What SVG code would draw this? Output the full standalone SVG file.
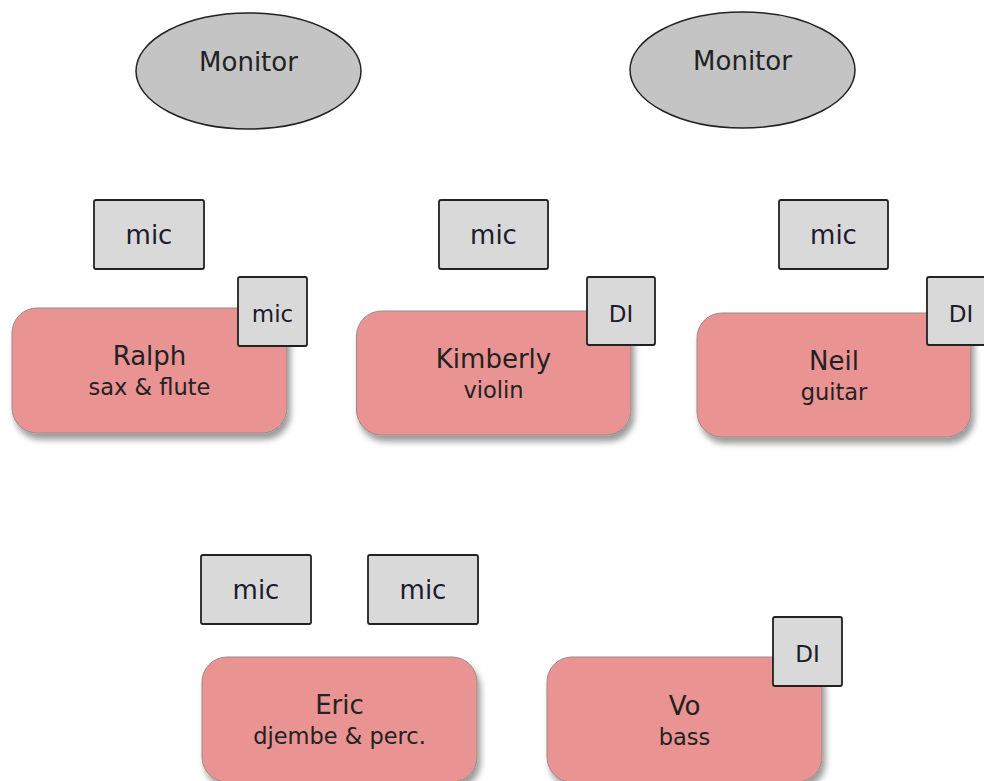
<svg xmlns="http://www.w3.org/2000/svg" width="984" height="781" viewBox="0 0 984 781">
<defs>
<filter id="shadow" x="-10%" y="-10%" width="125%" height="135%">
<feGaussianBlur in="SourceAlpha" stdDeviation="3"/>
<feOffset dx="3" dy="6" result="b"/>
<feComponentTransfer><feFuncA type="linear" slope="0.4"/></feComponentTransfer>
<feMerge><feMergeNode/><feMergeNode in="SourceGraphic"/></feMerge>
</filter>
</defs>
<style>
text{font-family:"DejaVu Sans","Liberation Sans",sans-serif;text-anchor:middle;fill:#222}
.mon{fill:#c4c4c4;stroke:#222;stroke-width:1.5}
.box{fill:#d9d9d9;stroke:#222;stroke-width:1.8}
.player{fill:#ea9393;stroke:#9a8a8a;stroke-width:1}
.big{font-size:26px}
.inst{font-size:22.5px}
.sm{font-size:23px}
.mt{fill:#1c1c2c}
</style>
<rect width="984" height="781" fill="#fff"/>
<g id="connectors"/>
<g id="monitor-left"><ellipse class="mon" cx="248.5" cy="71" rx="112.5" ry="58"/><text class="big" x="248.5" y="71">Monitor</text></g>
<g id="monitor-right"><ellipse class="mon" cx="742.5" cy="70" rx="112.5" ry="58"/><text class="big" x="742.5" y="70">Monitor</text></g>
<g id="mic-ralph-top"><rect class="box" x="94" y="200" width="110" height="69" rx="2"/><text class="big mt" x="149" y="244">mic</text></g>
<g id="mic-kimberly-top"><rect class="box" x="439" y="200" width="109" height="69" rx="2"/><text class="big mt" x="493.5" y="244">mic</text></g>
<g id="mic-neil-top"><rect class="box" x="779" y="200" width="109" height="69" rx="2"/><text class="big mt" x="833.5" y="244">mic</text></g>
<g id="ralph"><rect class="player" filter="url(#shadow)" x="12" y="308" width="275" height="125" rx="25"/><text class="big" x="149.5" y="365">Ralph</text><text class="inst" x="149.5" y="395">sax &amp; flute</text></g>
<g id="kimberly"><rect class="player" filter="url(#shadow)" x="356.5" y="311" width="274.5" height="124" rx="25"/><text class="big" x="493.5" y="368">Kimberly</text><text class="inst" x="493.5" y="398">violin</text></g>
<g id="neil"><rect class="player" filter="url(#shadow)" x="697" y="313" width="274" height="124" rx="25"/><text class="big" x="834" y="370">Neil</text><text class="inst" x="834" y="400">guitar</text></g>
<g id="mic-ralph-small"><rect class="box" x="238" y="277" width="69" height="69" rx="2"/><text class="sm mt" x="272.5" y="322">mic</text></g>
<g id="di-kimberly"><rect class="box" x="587" y="277" width="68" height="68" rx="2"/><text class="sm mt" x="621" y="322">DI</text></g>
<g id="di-neil"><rect class="box" x="927" y="277" width="68" height="68" rx="2"/><text class="sm mt" x="961" y="322">DI</text></g>
<g id="mic-eric-1"><rect class="box" x="201" y="555" width="110" height="69" rx="2"/><text class="big mt" x="256" y="599">mic</text></g>
<g id="mic-eric-2"><rect class="box" x="368" y="555" width="110" height="69" rx="2"/><text class="big mt" x="423" y="599">mic</text></g>
<g id="eric"><rect class="player" filter="url(#shadow)" x="202" y="657" width="275" height="125" rx="25"/><text class="big" x="339.5" y="714">Eric</text><text class="inst" x="339.5" y="744">djembe &amp; perc.</text></g>
<g id="vo"><rect class="player" filter="url(#shadow)" x="547" y="657" width="275" height="125" rx="25"/><text class="big" x="684.5" y="715">Vo</text><text class="inst" x="684.5" y="745">bass</text></g>
<g id="di-vo"><rect class="box" x="773" y="617" width="69" height="69" rx="2"/><text class="sm mt" x="807.5" y="662">DI</text></g>
</svg>
